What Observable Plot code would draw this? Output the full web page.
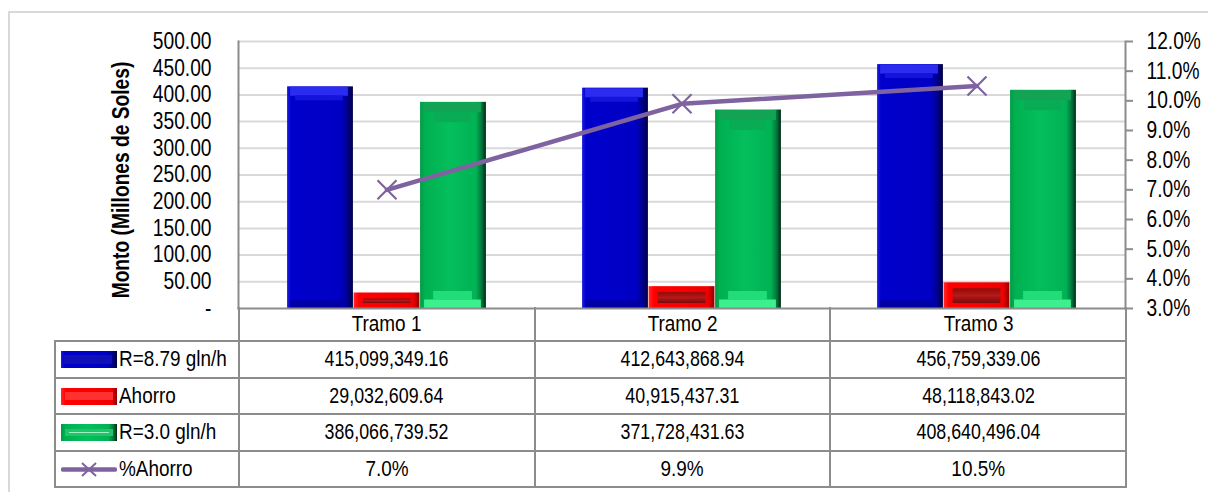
<!DOCTYPE html>
<html>
<head>
<meta charset="utf-8">
<script src="https://cdn.jsdelivr.net/npm/d3@7"></script>
<script src="https://cdn.jsdelivr.net/npm/@observablehq/plot@0.6"></script>
<style>
  html, body { margin: 0; padding: 0; background: #fff; }
  #wrap { position: relative; width: 1208px; height: 492px; overflow: hidden;
          font-family: "Liberation Sans", Arial, sans-serif; }
  #frame { position: absolute; left: 8px; top: 11px; width: 1220px; height: 520px;
           border: 2px solid #d9d9d9; box-sizing: border-box; }
  #chart { position: absolute; left: 0; top: 0; }
  #tabla { position: absolute; left: 54px; top: 307px; width: 1072px; border-collapse: collapse;
           font-size: 22px; color: #000; table-layout: fixed; }
  #tabla td { border: 2px solid #8c8c8c; text-align: center; padding: 0; white-space: nowrap; overflow: visible; }
  #tabla tr.head td { height: 33px; border-top: none; }
  #tabla tr.head td.blank { border: none; border-right: 2px solid #8c8c8c; }
  #tabla tr.fila td { height: 34.5px; }
  #tabla td.serie { text-align: left; padding-left: 5px; }
  #tabla td.serie svg { vertical-align: -2px; margin-right: 2px; }
  .cond { display: inline-block; transform: scaleX(0.86); transform-origin: center; }
  .cond.num { transform: scaleX(0.81); }
  td.serie .cond { transform-origin: left center; }
</style>
</head>
<body>
<div id="wrap">
  <div id="frame"></div>
  <div id="chart"></div>
  <table id="tabla"></table>
</div>
<script>
// Categories and series (montos en soles, ahorro en %)
const tramos = ["Tramo 1", "Tramo 2", "Tramo 3"];
const serieNames = ["R=8.79 gln/h", "Ahorro", "R=3.0 gln/h", "%Ahorro"];
const montoR879 = [415099349.16, 412643868.94, 456759339.06];
const montoAhorro = [29032609.64, 40915437.31, 48118843.02];
const montoR30 = [386066739.52, 371728431.63, 408640496.04];
const pctAhorro = [7.0, 9.9, 10.5];

// Axis ticks
const yTicks = [0, 50, 100, 150, 200, 250, 300, 350, 400, 450, 500];
const pctTicks = [3, 4, 5, 6, 7, 8, 9, 10, 11, 12];

const yTitle = "Monto (Millones de Soles)";
const FONT = '"Liberation Sans", Arial, sans-serif';

// Secondary (percent) axis mapped onto the primary domain
const pMin = pctTicks[0], pMax = pctTicks[pctTicks.length - 1];
const yMax = yTicks[yTicks.length - 1];
const pctToY = p => (p - pMin) / (pMax - pMin) * yMax;
const yToPct = v => pMin + v / yMax * (pMax - pMin);

const rows = tramos.map((t, i) => ({
  tramo: t,
  r879: montoR879[i] / 1e6,
  ahorro: montoAhorro[i] / 1e6,
  r30: montoR30[i] / 1e6,
  pct: pctAhorro[i]
}));

// Layout
const W = 1208, H = 310, ML = 238, MR = 83, MT = 41, MB = 2;
const bw = (W - ML - MR) / tramos.length;
const barW = 66.5;
const outer = (bw - 3 * barW) / 2;
const inset = k => ({insetLeft: outer + k * barW, insetRight: bw - outer - (k + 1) * barW});
const insetBy = (k, l, r) => ({insetLeft: inset(k).insetLeft + l, insetRight: inset(k).insetRight + r});

const PURPLE = "#7f63a1";
const AXIS = "#8c8c8c";

const chart = Plot.plot({
  width: W, height: H,
  marginLeft: ML, marginRight: MR, marginTop: MT, marginBottom: MB,
  style: {fontFamily: FONT, fontSize: "23px", color: "#000", background: "transparent", overflow: "visible"},
  x: {type: "band", domain: tramos, padding: 0, axis: null},
  y: {domain: [0, yMax], axis: null},
  marks: [
    Plot.gridY(yTicks.filter(v => v > 0), {stroke: "#d9d9d9", strokeWidth: 2, strokeOpacity: 1}),

    // R=8.79 gln/h
    Plot.barY(rows, {x: "tramo", y: "r879", fill: "url(#gBlue)", ...inset(0)}),
    Plot.tickY(rows, {x: "tramo", y: "r879", stroke: "#2c2cf0", strokeWidth: 9, dy: 4.5, ...insetBy(0, 3, 5)}),
    Plot.tickY(rows, {x: "tramo", y: "r879", stroke: "#1414dc", strokeWidth: 5, dy: 11, ...insetBy(0, 8, 10)}),
    Plot.tickY(rows, {x: "tramo", y: 0, stroke: "#0000a4", strokeWidth: 8, dy: -4, ...insetBy(0, 3, 5)}),

    // Ahorro
    Plot.barY(rows, {x: "tramo", y: "ahorro", fill: "url(#gRed)", ...inset(1)}),
    Plot.barY(rows, {x: "tramo", y: "ahorro", fill: "url(#gRedIn)", ...insetBy(1, 9, 9), insetTop: 6, insetBottom: 5}),

    // R=3.0 gln/h
    Plot.barY(rows, {x: "tramo", y: "r30", fill: "url(#gGreen)", ...inset(2)}),
    Plot.tickY(rows, {x: "tramo", y: "r30", stroke: "#12a454", strokeWidth: 10, dy: 5, ...insetBy(2, 4, 5)}),
    Plot.tickY(rows, {x: "tramo", y: "r30", stroke: "#0aab55", strokeWidth: 10, dy: 15, ...insetBy(2, 14, 15)}),
    Plot.tickY(rows, {x: "tramo", y: 0, stroke: "#3cf08e", strokeWidth: 9, dy: -4.5, ...insetBy(2, 4, 5)}),
    Plot.tickY(rows, {x: "tramo", y: 0, stroke: "#22dc78", strokeWidth: 9, dy: -13, ...insetBy(2, 13, 14)}),

    // %Ahorro on the secondary axis
    Plot.line(rows, {x: "tramo", y: d => pctToY(d.pct), stroke: PURPLE, strokeWidth: 4.5}),
    Plot.dot(rows, {x: "tramo", y: d => pctToY(d.pct), symbol: "times", r: 8.7, stroke: PURPLE, strokeWidth: 2.2}),

    // Axis lines
    Plot.frame({anchor: "left", stroke: AXIS, strokeWidth: 2}),
    Plot.frame({anchor: "right", stroke: AXIS, strokeWidth: 2}),
    Plot.frame({anchor: "bottom", stroke: AXIS, strokeWidth: 2}),

    Plot.axisY({ticks: yTicks, tickSize: 0, tickPadding: 27, label: null,
      tickFormat: v => v === 0 ? "-" : d3.format(",.2f")(v)}),
    Plot.axisY({anchor: "right", ticks: pctTicks.map(pctToY), tickSize: 7, tickPadding: 14, label: null,
      stroke: AXIS, strokeWidth: 2, tickFormat: v => yToPct(v).toFixed(1) + "%"}),

    Plot.text([yTitle], {frameAnchor: "left", textAnchor: "middle", rotate: -90, dx: -117, dy: 5,
      fontWeight: "bold", fontSize: 23})
  ]
});

// Bevel-style gradients for the bars
const defs = d3.select(chart).insert("defs", ":first-child");
function grad(id, stops, vertical) {
  const g = defs.append("linearGradient").attr("id", id)
    .attr("x1", 0).attr("y1", 0).attr("x2", vertical ? 0 : 1).attr("y2", vertical ? 1 : 0);
  for (const [o, c] of stops) g.append("stop").attr("offset", o).attr("stop-color", c);
}
grad("gBlue", [[0, "#1c1ce0"], [0.06, "#0000cc"], [0.82, "#0000c4"], [0.92, "#00008a"], [1, "#000040"]]);
grad("gRed", [[0, "#ff2a2a"], [0.08, "#ff0000"], [0.9, "#f00000"], [1, "#900000"]]);
grad("gRedIn", [[0, "#8c0c0c"], [0.5, "#b81818"], [1, "#7a0a0a"]], true);
grad("gGreen", [[0, "#009a46"], [0.07, "#00b050"], [0.45, "#04bf5c"], [0.85, "#00b253"], [0.94, "#00703a"], [1, "#002a14"]]);

document.getElementById("chart").appendChild(chart);

// Condensed lettering: squeeze each label horizontally around its own anchor point
const SQUEEZE = 0.835;
chart.querySelectorAll("text").forEach(t => {
  const x = parseFloat(t.getAttribute("x") || "0");
  const y = parseFloat(t.getAttribute("y") || "0");
  const base = t.getAttribute("transform") || "";
  if (Number.isFinite(x) && Number.isFinite(y)) {
    t.setAttribute("transform",
      `${base} translate(${x},${y}) scale(${SQUEEZE},1) translate(${-x},${-y})`.trim());
  } else {
    const len = t.getComputedTextLength();
    t.setAttribute("textLength", (len * SQUEEZE).toFixed(2));
    t.setAttribute("lengthAdjust", "spacingAndGlyphs");
  }
});

// Data table under the chart
const fmtMonto = d3.format(",.2f");
const fmtPct = v => v.toFixed(1) + "%";
const swatch = {
  "R=8.79 gln/h": `<svg width="56" height="17"><rect width="56" height="17" fill="url(#gBlue)"/><rect x="3" y="4" width="48" height="9" fill="#1010b8"/></svg>`,
  "Ahorro": `<svg width="56" height="17"><rect width="56" height="17" fill="url(#gRed)"/><rect x="4" y="4" width="48" height="8" fill="#ff3030"/></svg>`,
  "R=3.0 gln/h": `<svg width="56" height="17"><rect width="56" height="17" fill="url(#gGreen)"/><rect x="4" y="5" width="48" height="7" fill="#20c46a"/><line x1="8" x2="48" y1="8.5" y2="8.5" stroke="#9ff0c0" stroke-width="1"/></svg>`,
  "%Ahorro": `<svg width="56" height="17"><line x1="2" x2="54" y1="8.5" y2="8.5" stroke="${PURPLE}" stroke-width="4.5" stroke-linecap="round"/><path d="M21,2L35,15M35,2L21,15" stroke="${PURPLE}" stroke-width="2"/></svg>`
};
const seriesValues = [
  montoR879.map(fmtMonto),
  montoAhorro.map(fmtMonto),
  montoR30.map(fmtMonto),
  pctAhorro.map(fmtPct)
];
const cond = (s, cls = "") => `<span class="cond ${cls}">${s}</span>`;
const tabla = d3.select("#tabla");
const cg = tabla.append("colgroup");
cg.append("col").style("width", (ML - 54) + "px");
tramos.forEach(() => cg.append("col").style("width", bw + "px"));
const head = tabla.append("tr").attr("class", "head");
head.append("td").attr("class", "blank");
tramos.forEach(t => head.append("td").html(cond(t)));
serieNames.forEach((name, s) => {
  const tr = tabla.append("tr").attr("class", "fila");
  tr.append("td").attr("class", "serie").html(swatch[name] + cond(name));
  seriesValues[s].forEach(v => tr.append("td").html(cond(v, s < 3 ? "num" : "")));
});
</script>
</body>
</html>
